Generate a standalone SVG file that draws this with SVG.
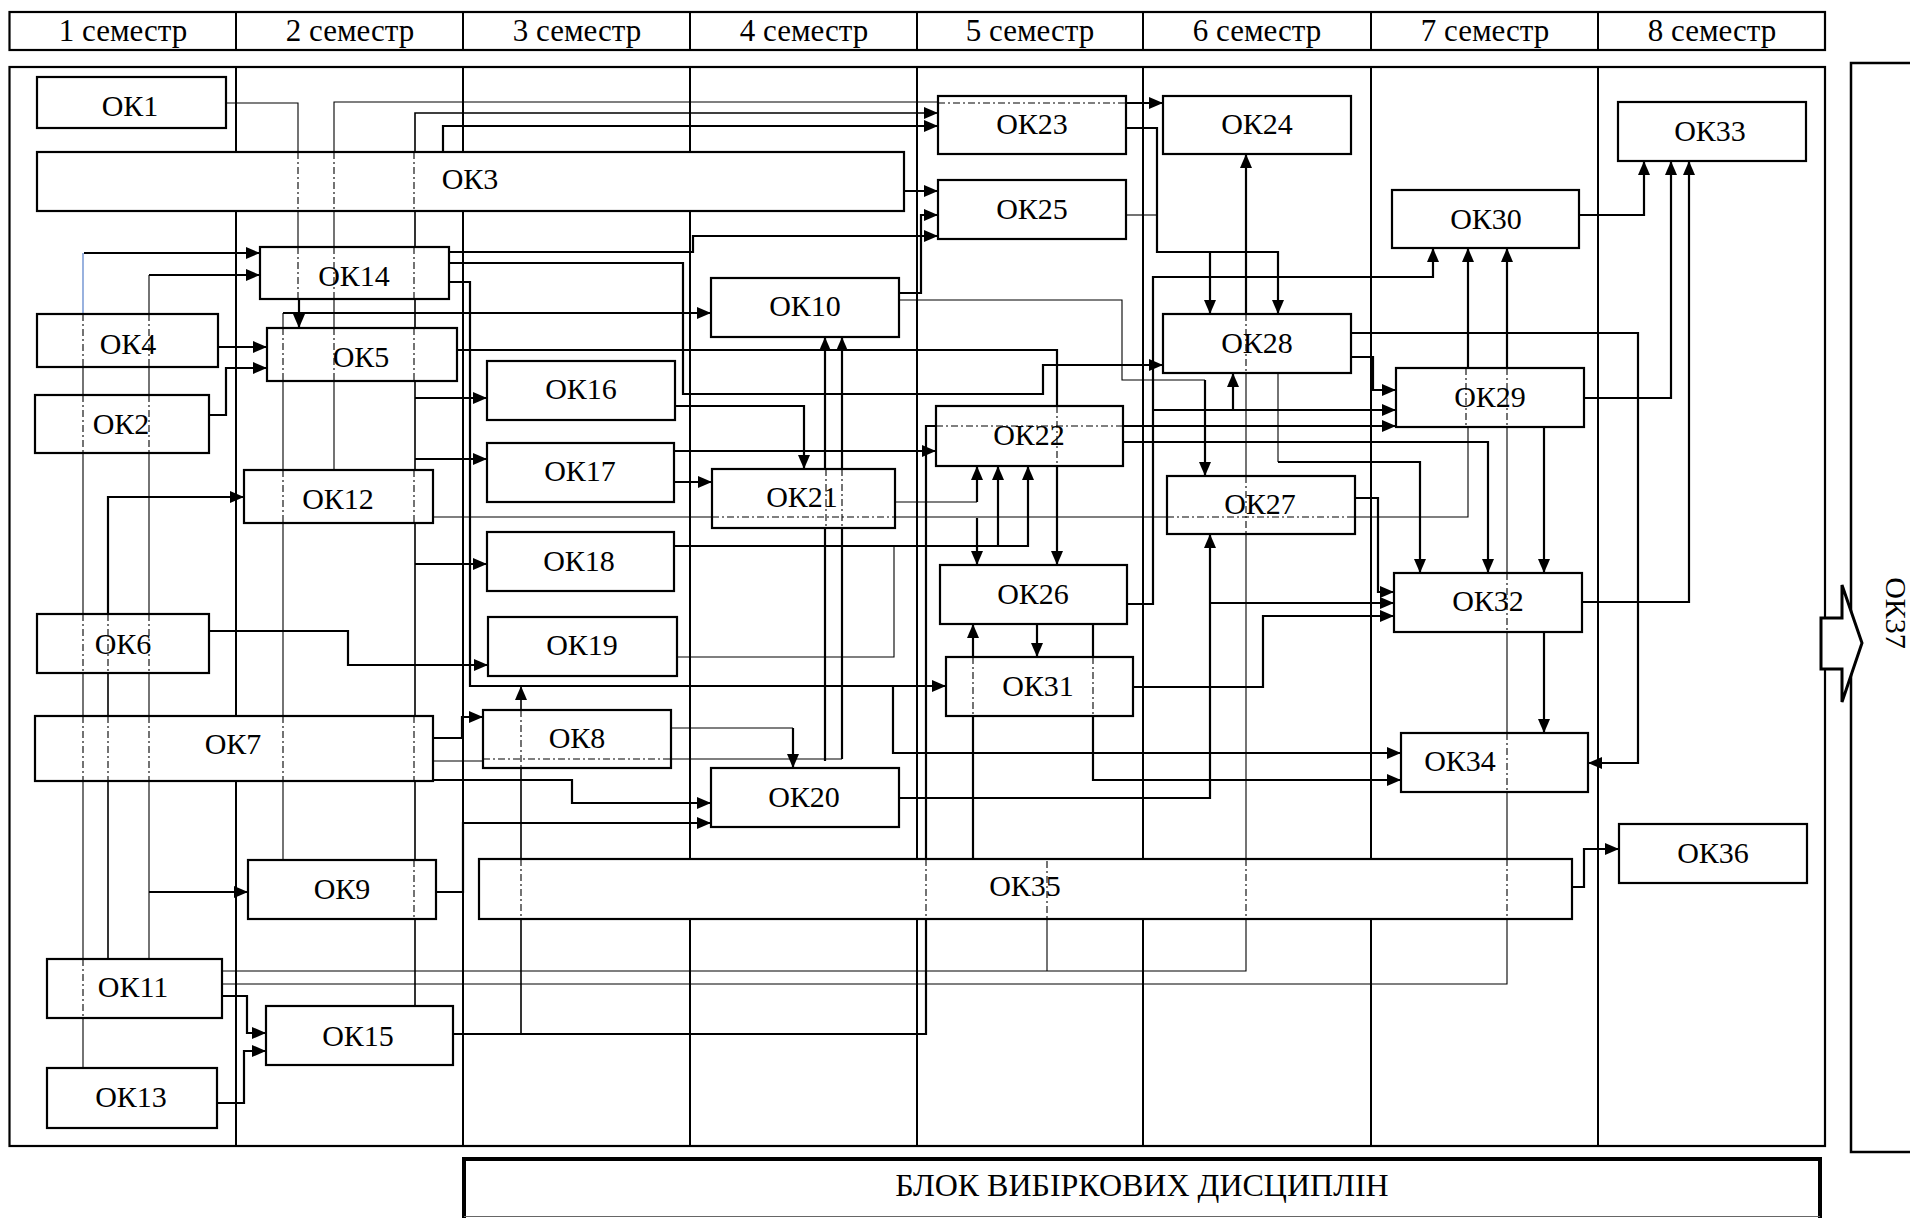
<svg xmlns="http://www.w3.org/2000/svg" width="1910" height="1218" viewBox="0 0 1910 1218">
<style>
.frame{fill:none;stroke:#000;stroke-width:2.2}
.div{stroke:#000;stroke-width:2}
.k{fill:none;stroke:#000;stroke-width:2.2}
.m{fill:none;stroke:#000;stroke-width:1.6}
.t{fill:none;stroke:#000;stroke-width:1.1}
.a{marker-end:url(#ah)}
.d{fill:none;stroke:#000;stroke-width:1.1;stroke-dasharray:7 3 2 3}
.n rect{fill:#fff;stroke:#000;stroke-width:2.2}
.lbl{font-family:"Liberation Serif","Times New Roman",serif;font-size:30px;text-anchor:middle;fill:#000}
.hdr{font-family:"Liberation Serif","Times New Roman",serif;font-size:31px;text-anchor:middle;fill:#000}
</style>
<defs>
<marker id="ah" viewBox="0 0 14 12" refX="14" refY="6" markerWidth="14" markerHeight="12" markerUnits="userSpaceOnUse" orient="auto"><path d="M0,0 L14,6 L0,12 z" fill="#000"/></marker>
</defs>
<rect width="1910" height="1218" fill="#fff"/>
<g id="header">
<rect class="frame" x="9.5" y="12" width="1815.5" height="38"/>
<path class="div" d="M236,12V50M463,12V50M690,12V50M917,12V50M1143,12V50M1371,12V50M1598,12V50"/>
<text class="hdr" x="123" y="41">1 семестр</text>
<text class="hdr" x="350" y="41">2 семестр</text>
<text class="hdr" x="577" y="41">3 семестр</text>
<text class="hdr" x="804" y="41">4 семестр</text>
<text class="hdr" x="1030" y="41">5 семестр</text>
<text class="hdr" x="1257" y="41">6 семестр</text>
<text class="hdr" x="1485" y="41">7 семестр</text>
<text class="hdr" x="1712" y="41">8 семестр</text>
</g>
<g id="grid">
<rect class="frame" x="9.5" y="67" width="1815.5" height="1079"/>
<path class="div" d="M236,67V1146M463,67V1146M690,67V1146M917,67V1146M1143,67V1146M1371,67V1146M1598,67V1146"/>
</g>
<g id="connectors">
<path class="t" d="M226,103H298V300"/><path class="k a" d="M299,298V328"/>
<path class="t" d="M334,470V102H940"/><path class="k a" d="M1126,103H1163"/>
<path class="m a" d="M415,1006V113H938"/>
<path class="k a" d="M415,398H487"/><path class="k a" d="M415,459H487"/><path class="k a" d="M415,564H487"/>
<path class="k a" d="M443,152V126H938"/>
<path class="k a" d="M904,191H938"/>
<path class="k a" d="M899,293H921V215H938"/>
<path class="k a" d="M449,252H693V236H938"/>
<path class="k a" d="M449,263H683V394H1043V365H1163"/>
<path class="k a" d="M449,282H470V686H946"/><path class="k a" d="M893,686V753H1401"/>
<path class="t" d="M283,860V313"/><path class="k a" d="M283,313H711"/>
<path class="k a" d="M218,347H267"/>
<path class="k a" d="M209,415H226V368H267"/>
<path class="t" d="M83,1068V314"/><path fill="none" stroke="#4472c4" stroke-width="1.1" d="M83,314V253"/><path class="k a" d="M84,253H260"/>
<path class="t" d="M149,959V275"/><path class="k a" d="M149,275H260"/><path class="k a" d="M149,892H248"/>
<path class="m" d="M108,959V614"/><path class="k a" d="M108,614V497H244"/>
<path class="k a" d="M209,631H348V665H488"/>
<path class="k a" d="M433,738H462V717H483"/>
<path class="t" d="M433,761H483"/><path class="t" d="M671,759H842"/><path class="k a" d="M842,759V337"/><path class="k a" d="M825,761V337"/>
<path class="k a" d="M433,780H572V803H711"/>
<path class="k a" d="M436,892H463V823H711"/>
<path class="k a" d="M222,996H247V1033H266"/>
<path class="k a" d="M217,1103H244V1051H266"/>
<path class="k" d="M453,1034H926V426H936"/><path class="k a" d="M1123,426H1396"/>
<path class="m a" d="M521,1034V686"/>
<path class="k a" d="M675,406H804V469"/>
<path class="k a" d="M674,451H936"/>
<path class="k a" d="M674,482H712"/>
<path class="k a" d="M674,546H1028V466"/><path class="k a" d="M998,546V466"/>
<path class="t" d="M670,657H894V546"/>
<path class="t" d="M895,502H977"/><path class="k a" d="M977,502V466"/>
<path class="k a" d="M977,518V565"/>
<path class="t" d="M433,517H1468V427"/><path class="k a" d="M1468,368V248"/>
<path class="k a" d="M457,350H1057V565"/>
<path class="t" d="M899,300H1122V380H1205"/><path class="k a" d="M1205,380V476"/>
<path class="k a" d="M1126,128H1157V252H1278V314"/><path class="k a" d="M1210,252V314"/>
<path class="t" d="M1126,215H1157"/>
<path class="k a" d="M1246,314V154"/><path class="t" d="M222,971H1246V373"/>
<path class="t" d="M1047,919V971"/>
<path class="t" d="M222,984H1507V427"/><path class="k a" d="M1507,368V248"/>
<path class="k a" d="M1127,604H1153V277H1433V248"/><path class="k a" d="M1153,410H1396"/><path class="k a" d="M1233,410V373"/>
<path class="k a" d="M1351,357H1373V390H1396"/>
<path class="k a" d="M1351,333H1638V763H1588"/>
<path class="t" d="M1278,373V462"/><path class="k a" d="M1278,462H1420V573"/>
<path class="k a" d="M1123,442H1488V573"/>
<path class="k a" d="M1544,427V573"/>
<path class="k a" d="M1544,632V733"/>
<path class="k a" d="M1582,398H1671V161"/>
<path class="k a" d="M1579,215H1644V161"/>
<path class="k a" d="M1582,602H1689V161"/>
<path class="k a" d="M1355,498H1378V592H1394"/>
<path class="k a" d="M899,798H1210V534"/><path class="k a" d="M1210,603H1394"/>
<path class="k a" d="M1133,687H1263V616H1394"/>
<path class="k a" d="M1093,624V780H1401"/>
<path class="k a" d="M1037,624V657"/>
<path class="k a" d="M973,859V624"/>
<path class="k a" d="M1572,887H1584V849H1619"/>
<path class="t" d="M671,728H793"/><path class="k a" d="M793,728V768"/>
</g>
<g id="ok1" class="n"><rect x="37" y="77" width="189" height="51"/><text class="lbl" x="130" y="116">ОК1</text></g>
<g id="ok3" class="n"><rect x="37" y="152" width="867" height="59"/><text class="lbl" x="470" y="189">ОК3</text></g>
<g id="ok14" class="n"><rect x="260" y="247" width="189" height="52"/><text class="lbl" x="354" y="286">ОК14</text></g>
<g id="ok4" class="n"><rect x="37" y="314" width="181" height="53"/><text class="lbl" x="128" y="354">ОК4</text></g>
<g id="ok5" class="n"><rect x="267" y="328" width="190" height="53"/><text class="lbl" x="361" y="367">ОК5</text></g>
<g id="ok2" class="n"><rect x="35" y="395" width="174" height="58"/><text class="lbl" x="121" y="434">ОК2</text></g>
<g id="ok12" class="n"><rect x="244" y="470" width="189" height="53"/><text class="lbl" x="338" y="509">ОК12</text></g>
<g id="ok6" class="n"><rect x="37" y="614" width="172" height="59"/><text class="lbl" x="123" y="654">ОК6</text></g>
<g id="ok7" class="n"><rect x="35" y="716" width="398" height="65"/><text class="lbl" x="233" y="754">ОК7</text></g>
<g id="ok9" class="n"><rect x="248" y="860" width="188" height="59"/><text class="lbl" x="342" y="899">ОК9</text></g>
<g id="ok11" class="n"><rect x="47" y="959" width="175" height="59"/><text class="lbl" x="133" y="997">ОК11</text></g>
<g id="ok13" class="n"><rect x="47" y="1068" width="170" height="60"/><text class="lbl" x="131" y="1107">ОК13</text></g>
<g id="ok15" class="n"><rect x="266" y="1006" width="187" height="59"/><text class="lbl" x="358" y="1046">ОК15</text></g>
<g id="ok10" class="n"><rect x="711" y="278" width="188" height="59"/><text class="lbl" x="805" y="316">ОК10</text></g>
<g id="ok16" class="n"><rect x="487" y="361" width="188" height="59"/><text class="lbl" x="581" y="399">ОК16</text></g>
<g id="ok17" class="n"><rect x="487" y="443" width="187" height="59"/><text class="lbl" x="580" y="481">ОК17</text></g>
<g id="ok21" class="n"><rect x="712" y="469" width="183" height="59"/><text class="lbl" x="802" y="507">ОК21</text></g>
<g id="ok18" class="n"><rect x="487" y="532" width="187" height="59"/><text class="lbl" x="579" y="571">ОК18</text></g>
<g id="ok19" class="n"><rect x="488" y="617" width="189" height="59"/><text class="lbl" x="582" y="655">ОК19</text></g>
<g id="ok8" class="n"><rect x="483" y="710" width="188" height="58"/><text class="lbl" x="577" y="748">ОК8</text></g>
<g id="ok20" class="n"><rect x="711" y="768" width="188" height="59"/><text class="lbl" x="804" y="807">ОК20</text></g>
<g id="ok23" class="n"><rect x="938" y="96" width="188" height="58"/><text class="lbl" x="1032" y="134">ОК23</text></g>
<g id="ok25" class="n"><rect x="938" y="180" width="188" height="59"/><text class="lbl" x="1032" y="219">ОК25</text></g>
<g id="ok24" class="n"><rect x="1163" y="96" width="188" height="58"/><text class="lbl" x="1257" y="134">ОК24</text></g>
<g id="ok28" class="n"><rect x="1163" y="314" width="188" height="59"/><text class="lbl" x="1257" y="353">ОК28</text></g>
<g id="ok30" class="n"><rect x="1392" y="190" width="187" height="58"/><text class="lbl" x="1486" y="229">ОК30</text></g>
<g id="ok33" class="n"><rect x="1618" y="102" width="188" height="59"/><text class="lbl" x="1710" y="141">ОК33</text></g>
<g id="ok29" class="n"><rect x="1396" y="368" width="188" height="59"/><text class="lbl" x="1490" y="407">ОК29</text></g>
<g id="ok22" class="n"><rect x="936" y="406" width="187" height="60"/><text class="lbl" x="1029" y="445">ОК22</text></g>
<g id="ok26" class="n"><rect x="940" y="565" width="187" height="59"/><text class="lbl" x="1033" y="604">ОК26</text></g>
<g id="ok31" class="n"><rect x="946" y="657" width="187" height="59"/><text class="lbl" x="1038" y="696">ОК31</text></g>
<g id="ok27" class="n"><rect x="1167" y="476" width="188" height="58"/><text class="lbl" x="1260" y="514">ОК27</text></g>
<g id="ok32" class="n"><rect x="1394" y="573" width="188" height="59"/><text class="lbl" x="1488" y="611">ОК32</text></g>
<g id="ok34" class="n"><rect x="1401" y="733" width="187" height="59"/><text class="lbl" x="1460" y="771">ОК34</text></g>
<g id="ok35" class="n"><rect x="479" y="859" width="1093" height="60"/><text class="lbl" x="1025" y="896">ОК35</text></g>
<g id="ok36" class="n"><rect x="1619" y="824" width="188" height="59"/><text class="lbl" x="1713" y="863">ОК36</text></g>
<g id="hidden-lines">
<path class="d" d="M298,152V211M298,247V299"/>
<path class="d" d="M334,152V211M334,247V299M334,328V381"/>
<path class="d" d="M414,152V211M414,247V299M414,328V381M414,470V523M414,716V781M414,860V919"/>
<path class="d" d="M283,328V381M283,470V523M283,716V781"/>
<path class="d" d="M83,314V367M83,395V453M83,614V673M83,716V781M83,959V1018"/>
<path class="d" d="M149,314V367M149,395V453M149,614V673M149,716V781"/>
<path class="d" d="M108,614V673M108,716V781"/>
<path class="d" d="M938,103H1126"/>
<path class="d" d="M483,759H671"/>
<path class="d" d="M521,710V768M521,859V919"/>
<path class="d" d="M826,469V528M842,469V528"/>
<path class="d" d="M712,517H895M1167,517H1355"/>
<path class="d" d="M926,859V919"/>
<path class="d" d="M936,426H1123"/>
<path class="d" d="M1057,406V466"/>
<path class="d" d="M1246,314V373M1246,476V534M1246,859V919"/>
<path class="d" d="M973,657V716M1093,657V716"/>
<path class="d" d="M1047,861V919"/>
<path class="d" d="M1466,368V427"/>
<path class="d" d="M1507,368V427M1507,573V632M1507,733V792M1507,859V919"/>
</g>
<g id="ok37">
<rect x="1851" y="63" width="100" height="1089" fill="#fff" stroke="#000" stroke-width="2.5"/>
<text class="lbl" transform="translate(1886,613) rotate(90)" x="0" y="0">ОК37</text>
<polygon points="1821,618 1842,618 1842,585 1862,643 1842,702 1842,669 1821,669" fill="#fff" stroke="#000" stroke-width="3"/>
</g>
<g id="elective">
<path d="M464,1218V1159H1820V1218" fill="#fff" stroke="#000" stroke-width="4"/>
<path d="M464,1216.5H1820" stroke="#666" stroke-width="1"/>
<text x="1142" y="1196" font-family="Liberation Serif, Times New Roman, serif" font-size="32" text-anchor="middle">БЛОК ВИБІРКОВИХ ДИСЦИПЛІН</text>
</g>
</svg>
